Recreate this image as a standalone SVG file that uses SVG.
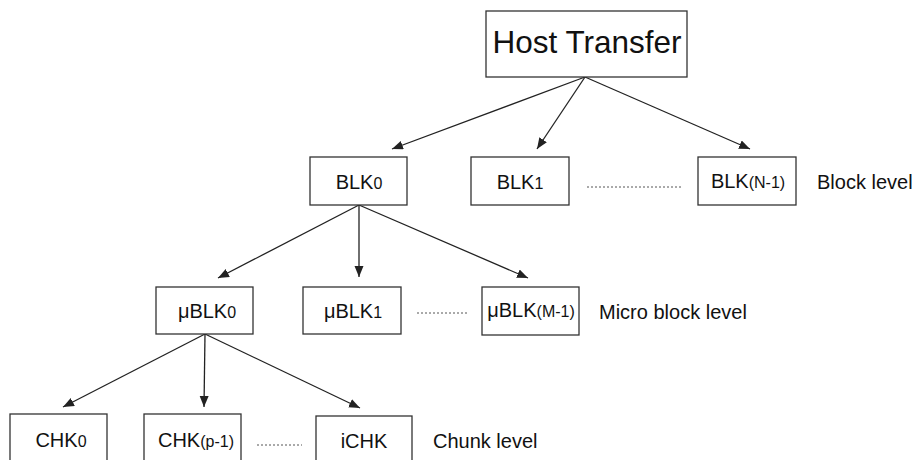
<svg xmlns="http://www.w3.org/2000/svg" width="918" height="460" viewBox="0 0 918 460">
  <style>
    .box { fill: #ffffff; stroke: #333333; stroke-width: 1.3; }
    .lbl { font-family: "Liberation Sans", Arial, sans-serif; font-size: 20px; fill: #111111; text-anchor: middle; }
    .sub { font-size: 16px; }
    .side { font-family: "Liberation Sans", Arial, sans-serif; font-size: 20px; fill: #111111; }
    .edge { stroke: #222222; stroke-width: 1.3; fill: none; marker-end: url(#arrow); }
    .dots { stroke: #555555; stroke-width: 1; stroke-dasharray: 2 2; fill: none; }
  </style>
  <defs>
    <marker id="arrow" markerUnits="userSpaceOnUse" markerWidth="12" markerHeight="10" refX="11" refY="4.5" orient="auto">
      <path d="M0,0 L11,4.5 L0,9 Z" fill="#222222"/>
    </marker>
  </defs>
  <rect width="918" height="460" fill="#ffffff"/>

  <!-- connectors -->
  <g id="connectors">
    <line class="edge" x1="585" y1="77" x2="392" y2="149"/>
    <line class="edge" x1="585" y1="77" x2="537" y2="149"/>
    <line class="edge" x1="585" y1="77" x2="750" y2="149"/>
    <line class="edge" x1="359" y1="205" x2="218" y2="278"/>
    <line class="edge" x1="359" y1="205" x2="359" y2="277"/>
    <line class="edge" x1="359" y1="205" x2="528" y2="278"/>
    <line class="edge" x1="205" y1="334" x2="63" y2="407"/>
    <line class="edge" x1="205" y1="334" x2="204" y2="407"/>
    <line class="edge" x1="205" y1="334" x2="360" y2="408"/>
    <line class="dots" x1="587" y1="187" x2="682" y2="187"/>
    <line class="dots" x1="417" y1="313" x2="467" y2="313"/>
    <line class="dots" x1="257" y1="445" x2="302" y2="445"/>
  </g>

  <!-- root -->
  <g id="host-transfer">
    <rect class="box" x="486" y="11" width="201" height="66"/>
    <text class="lbl" x="587" y="53" style="font-size:31.5px">Host Transfer</text>
  </g>

  <!-- block level -->
  <g id="blk0">
    <rect class="box" x="310" y="157" width="97" height="48"/>
    <text class="lbl" x="359" y="189">BLK<tspan class="sub">0</tspan></text>
  </g>
  <g id="blk1">
    <rect class="box" x="471" y="157" width="98" height="48"/>
    <text class="lbl" x="520" y="189">BLK<tspan class="sub">1</tspan></text>
  </g>
  <g id="blk-n-1">
    <rect class="box" x="698" y="157" width="98" height="48"/>
    <text class="lbl" x="748" y="188">BLK<tspan class="sub">(N-1)</tspan></text>
  </g>
  <text class="side" x="817" y="189">Block level</text>

  <!-- micro block level -->
  <g id="ublk0">
    <rect class="box" x="156" y="287" width="97" height="47"/>
    <text class="lbl" x="207" y="318">μBLK<tspan class="sub">0</tspan></text>
  </g>
  <g id="ublk1">
    <rect class="box" x="303" y="287" width="98" height="47"/>
    <text class="lbl" x="353" y="318">μBLK<tspan class="sub">1</tspan></text>
  </g>
  <g id="ublk-m-1">
    <rect class="box" x="482" y="287" width="97" height="48"/>
    <text class="lbl" x="531" y="317">μBLK<tspan class="sub">(M-1)</tspan></text>
  </g>
  <text class="side" x="599" y="319">Micro block level</text>

  <!-- chunk level -->
  <g id="chk0">
    <rect class="box" x="10" y="414" width="97" height="50"/>
    <text class="lbl" x="61" y="447">CHK<tspan class="sub">0</tspan></text>
  </g>
  <g id="chk-p-1">
    <rect class="box" x="144" y="414" width="97" height="50"/>
    <text class="lbl" x="196" y="447">CHK<tspan class="sub">(p-1)</tspan></text>
  </g>
  <g id="ichk">
    <rect class="box" x="316" y="416" width="96" height="50"/>
    <text class="lbl" x="364" y="448">iCHK</text>
  </g>
  <text class="side" x="433" y="448">Chunk level</text>
</svg>
